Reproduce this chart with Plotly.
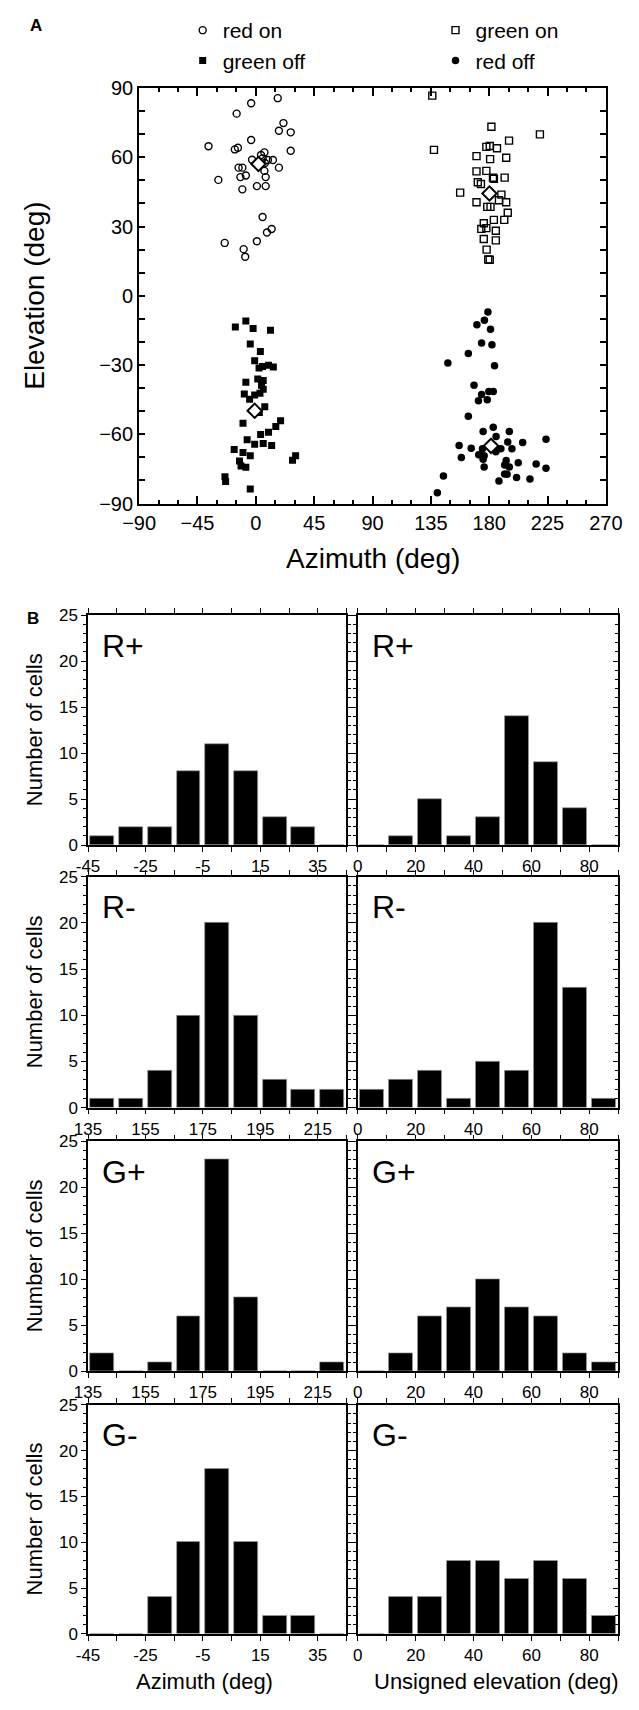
import plotly.graph_objects as go

W, H = 639, 1710
FONT = "Liberation Sans, Arial, Helvetica, sans-serif"

# ---------------- Panel A data (azimuth, elevation in deg) ----------------
red_on_az = [16.9, -3.6, -14.8, 21.3, 17.8, 26.9, -3.6, -36.5, -16.2, -13.8, 26.9, 6.6,
             -2.9, 5.2, 9.3, 13.2, 6.6, -13.3, -10.4, 17.8, -28.9, -11.9, -7.7, 7.6,
             -10.4, 0.8, 7.6, 5.2, 12.2, 8.6, -24.0, 0.8, -9.4, -8.2, 7.0, 4.0]
red_on_el = [85.6, 83.4, 78.9, 74.8, 71.5, 70.8, 67.5, 64.8, 63.4, 64.1, 62.8, 62.1,
             58.9, 59.5, 58.8, 58.8, 54.1, 55.5, 55.5, 55.5, 50.2, 51.4, 52.1, 51.4,
             46.1, 47.5, 47.5, 34.1, 28.9, 27.4, 22.9, 23.6, 20.2, 16.9, 57.5, 61.0]

green_on_az = [136.1, 181.7, 219.1, 195.3, 177.8, 180.4, 186.0, 137.4, 170.2, 180.7, 193.1,
               170.2, 177.8, 182.9, 183.6, 191.9, 171.2, 173.6, 157.6, 189.4, 187.5, 170.2,
               193.1, 178.5, 181.0, 194.3, 183.6, 191.6, 175.8, 177.8, 173.9, 185.1, 175.8,
               185.1, 178.0, 179.2, 180.4]
green_on_el = [86.7, 73.2, 69.9, 67.2, 64.5, 64.9, 63.9, 63.2, 60.5, 59.2, 59.8,
               53.9, 54.1, 51.1, 50.7, 51.2, 49.2, 48.4, 44.7, 43.8, 41.4, 40.5,
               40.5, 38.5, 38.5, 36.0, 32.9, 32.9, 31.4, 29.3, 29.0, 28.2, 24.6,
               24.0, 20.0, 15.7, 15.6]

green_off_az = [-7.7, -15.8, -2.1, 11.3, -4.3, 3.5, -0.9, 2.5, 5.2, 9.8, 13.5, -7.7, 1.5,
                5.7, 4.4, 5.7, 3.2, -8.9, -0.9, -4.8, 6.9, 2.7, -9.9, 19.1, 15.4, 9.8,
                3.7, -6.7, -0.9, 5.7, 12.2, -16.7, -9.9, -4.3, -12.6, -11.4, -7.7, 30.7,
                28.3, -23.8, -23.3, -4.3]
green_off_el = [-10.9, -13.5, -14.2, -14.9, -20.9, -24.1, -28.1, -31.3, -30.6, -30.1, -30.8,
                -37.4, -36.0, -36.7, -38.7, -40.5, -42.2, -42.5, -43.0, -44.8, -48.1, -50.5,
                -55.2, -54.1, -56.6, -59.1, -60.1, -62.3, -64.3, -64.0, -64.8, -66.6, -67.9,
                -69.3, -71.6, -73.7, -74.3, -69.3, -71.2, -78.4, -80.4, -83.7]

red_off_az = [179.0, 176.3, 170.5, 181.0, 174.1, 182.1, 163.9, 148.1, 184.1, 168.3, 174.1,
              179.7, 183.1, 171.7, 178.5, 163.9, 175.3, 183.1, 195.5, 185.3, 223.8, 205.8,
              194.3, 156.8, 166.1, 174.8, 189.0, 197.5, 171.9, 176.1, 185.1, 158.5, 175.3,
              193.1, 202.4, 216.2, 176.1, 191.9, 195.5, 223.8, 191.9, 193.8, 201.1, 211.4,
              187.5, 144.7, 140.0]
red_off_el = [-7.05, -10.6, -12.5, -14.5, -20.4, -21.2, -25.0, -29.1, -30.3, -38.8, -42.8,
              -41.5, -41.5, -45.5, -45.0, -52.2, -58.8, -56.9, -58.8, -60.9, -62.1, -63.5,
              -63.3, -64.8, -66.0, -66.2, -66.2, -66.2, -68.8, -69.3, -67.6, -70.0, -70.8,
              -71.3, -72.3, -72.9, -74.2, -73.3, -74.2, -74.7, -77.2, -77.3, -78.7, -79.3,
              -80.2, -78.0, -85.3]

mean_az = [2.0, 180.2, -0.9, 181.4]
mean_el = [57.1, 44.3, -49.8, -65.0]

# ---------------- Panel B histogram data ----------------
az_front_bins = [-40, -30, -20, -10, 0, 10, 20, 30, 40]
az_back_bins = [140, 150, 160, 170, 180, 190, 200, 210, 220]
el_bins = [5, 15, 25, 35, 45, 55, 65, 75, 85]

rp_az = [1, 2, 2, 8, 11, 8, 3, 2, 0]
rp_el = [0, 1, 5, 1, 3, 14, 9, 4, 0]
rm_az = [1, 1, 4, 10, 20, 10, 3, 2, 2]
rm_el = [2, 3, 4, 1, 5, 4, 20, 13, 1]
gp_az = [2, 0, 1, 6, 23, 8, 0, 0, 1]
gp_el = [0, 2, 6, 7, 10, 7, 6, 2, 1]
gm_az = [0, 0, 4, 10, 18, 10, 2, 2, 0]
gm_el = [0, 4, 4, 8, 8, 6, 8, 6, 2]

row_labels = ["R+", "R-", "G+", "G-"]
az_ticks_front = [-45, -25, -5, 15, 35]
az_ticks_back = [135, 155, 175, 195, 215]
el_ticks = [0, 20, 40, 60, 80]


def fx(px):
    return px / W


def fy(py):
    return 1 - py / H


fig = go.Figure()

# ---------------- Panel A ----------------
fig.add_trace(go.Scatter(x=red_on_az, y=red_on_el, mode="markers", name="red on",
                         legend="legend",
                         marker=dict(symbol="circle-open", size=7, color="black",
                                     line=dict(width=1.4, color="black"))))
fig.add_trace(go.Scatter(x=green_on_az, y=green_on_el, mode="markers", name="green on",
                         legend="legend2",
                         marker=dict(symbol="square-open", size=7, color="black",
                                     line=dict(width=1.4, color="black"))))
fig.add_trace(go.Scatter(x=green_off_az, y=green_off_el, mode="markers", name="green off",
                         legend="legend",
                         marker=dict(symbol="square", size=7, color="black",
                                     line=dict(width=0))))
fig.add_trace(go.Scatter(x=red_off_az, y=red_off_el, mode="markers", name="red off",
                         legend="legend2",
                         marker=dict(symbol="circle", size=7.5, color="black",
                                     line=dict(width=0))))
fig.add_trace(go.Scatter(x=mean_az, y=mean_el, mode="markers", showlegend=False,
                         marker=dict(symbol="diamond", size=11, color="white",
                                     line=dict(width=2, color="black"))))

axis_common = dict(showgrid=False, zeroline=False, showline=True, linecolor="black",
                   color="black")

legend_common = dict(orientation="v", yanchor="top", xanchor="left",
                     font=dict(size=21, family=FONT, color="black"),
                     bgcolor="rgba(0,0,0,0)", itemwidth=30, tracegroupgap=0,
                     borderwidth=0)

layout = dict(
    width=W, height=H, margin=dict(l=0, r=0, t=0, b=0),
    paper_bgcolor="white", plot_bgcolor="white",
    font=dict(family=FONT, color="black"),
    showlegend=True,
    legend=dict(x=fx(175), y=fy(-1), **legend_common),
    legend2=dict(x=fx(442), y=fy(-1), **legend_common),
    xaxis=dict(domain=[fx(129), fx(622)], range=[-90, 270], tick0=-90, dtick=45,
               ticks="inside", ticklen=8, tickwidth=1.5, tickcolor="black",
               minor=dict(tick0=-90, dtick=15, ticks="inside", ticklen=4, tickwidth=1.5,
                          tickcolor="black"),
               mirror="ticks", linewidth=2, tickfont=dict(size=20), anchor="y",
               **axis_common),
    yaxis=dict(domain=[fy(499), fy(78)], range=[-90, 90], tick0=-90, dtick=30,
               ticks="inside", ticklen=6, tickwidth=1.5, tickcolor="black",
               minor=dict(tick0=-90, dtick=10, ticks="inside", ticklen=6, tickwidth=1.5,
                          tickcolor="black"),
               mirror="ticks", linewidth=2, tickfont=dict(size=20), anchor="x",
               **axis_common),
)

# ---------------- Panel B ----------------
rows = [(612, 845), (877, 1111), (1145, 1378), (1412, 1644)]
left_dom = [fx(75), fx(348)]
right_dom = [fx(360), fx(635)]
az_data = [(az_front_bins, rp_az, [-45, 45], az_ticks_front),
           (az_back_bins, rm_az, [135, 225], az_ticks_back),
           (az_back_bins, gp_az, [135, 225], az_ticks_back),
           (az_front_bins, gm_az, [-45, 45], az_ticks_front)]
el_data = [rp_el, rm_el, gp_el, gm_el]

annotations = []
ax_idx = 2
extra_idx = 20
for r, (top, bot) in enumerate(rows):
    ydom = [fy(bot), fy(top)]
    for c in range(2):
        if c == 0:
            xb, vals, xr, tv = az_data[r]
        else:
            xb, vals, xr, tv = el_bins, el_data[r], [0, 90], el_ticks
        xn, yn = f"x{ax_idx}", f"y{ax_idx}"
        fig.add_trace(go.Bar(x=xb, y=vals, width=8.3, xaxis=xn, yaxis=yn, showlegend=False,
                             marker=dict(color="black", line=dict(color="#9a9a9a", width=0.7))))
        layout[f"xaxis{ax_idx}"] = dict(
            domain=left_dom if c == 0 else right_dom, range=xr, anchor=yn,
            tickmode="array", tickvals=tv, ticktext=[str(v) for v in tv],
            ticks="outside", ticklen=5, tickwidth=1.2, tickcolor="black",
            minor=dict(tick0=xr[0], dtick=10, ticks="outside", ticklen=5, tickwidth=1.2,
                       tickcolor="black"),
            mirror="ticks", linewidth=1.5, tickfont=dict(size=17), **axis_common)
        layout[f"yaxis{ax_idx}"] = dict(
            domain=ydom, range=[0, 25], anchor=xn, tick0=0, dtick=5,
            ticks="outside", ticklen=5, tickwidth=1.2, tickcolor="black",
            minor=dict(tick0=0, dtick=1, ticks="outside", ticklen=3, tickwidth=1,
                       tickcolor="black"),
            showticklabels=(c == 0), mirror=("ticks" if c == 0 else True), linewidth=1.5,
            tickfont=dict(size=17), **axis_common)
        if c == 1:
            # right-hand frame of the right panels: ticks pointing inward
            yr = f"y{extra_idx}"
            fig.add_trace(go.Scatter(x=[None], y=[None], xaxis=xn, yaxis=yr,
                                     showlegend=False, hoverinfo="skip"))
            layout[f"yaxis{extra_idx}"] = dict(
                overlaying=yn, side="right", anchor=xn, range=[0, 25], tick0=0, dtick=5,
                ticks="inside", ticklen=5, tickwidth=1.2, tickcolor="black",
                minor=dict(tick0=0, dtick=1, ticks="inside", ticklen=3, tickwidth=1,
                           tickcolor="black"),
                showticklabels=False, showgrid=False, zeroline=False, showline=False)
            extra_idx += 1
        annotations.append(dict(text=row_labels[r], xref=f"{xn} domain", yref=f"{yn} domain",
                                x=0.045, y=1 - 31 / (bot - top), xanchor="left",
                                yanchor="middle", showarrow=False,
                                font=dict(size=32, family=FONT, color="black")))
        ax_idx += 1
    annotations.append(dict(text="Number of cells", xref="paper", yref="paper",
                            x=fx(18), y=fy((top + bot) / 2), textangle=-90,
                            xanchor="center", yanchor="middle", showarrow=False,
                            font=dict(size=22, family=FONT, color="black")))

annotations += [
    dict(text="<b>A</b>", x=fx(12), y=fy(15), xanchor="left", yanchor="middle",
         font=dict(size=17)),
    dict(text="<b>B</b>", x=fx(8), y=fy(615), xanchor="left", yanchor="middle",
         font=dict(size=17)),
    dict(text="Elevation (deg)", x=fx(19), y=fy(288.5), textangle=-90,
         xanchor="center", yanchor="middle", font=dict(size=28)),
    dict(text="Azimuth (deg)", x=fx(376), y=fy(555), xanchor="center", yanchor="middle",
         font=dict(size=28)),
    dict(text="Azimuth (deg)", x=fx(198), y=fy(1692), xanchor="center", yanchor="middle",
         font=dict(size=22)),
    dict(text="Unsigned elevation (deg)", x=fx(506), y=fy(1692), xanchor="center",
         yanchor="middle", font=dict(size=22)),
]
for a in annotations[-6:]:
    a.update(xref="paper", yref="paper", showarrow=False)
    a["font"].update(family=FONT, color="black")

layout["annotations"] = annotations
layout["bargap"] = 0
fig.update_layout(**layout)

fig.write_html("out.html")
